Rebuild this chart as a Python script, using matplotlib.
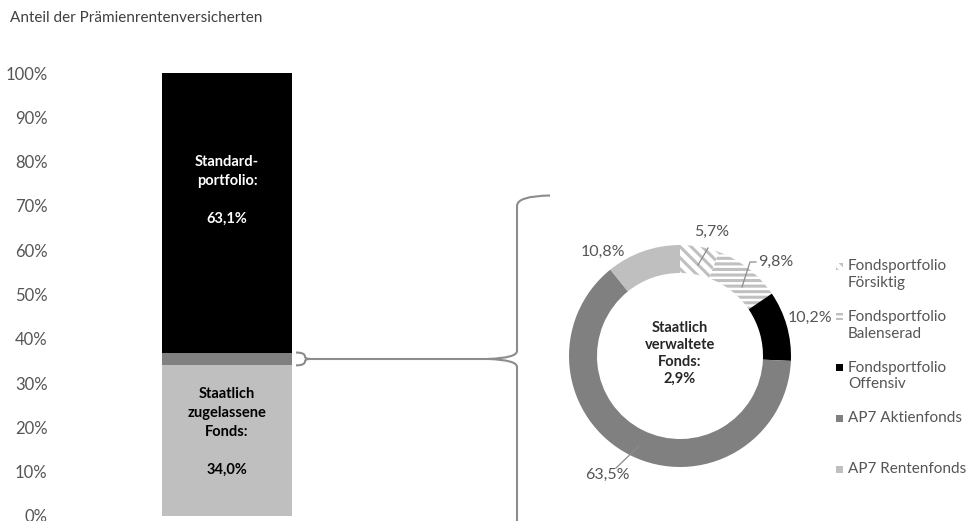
import matplotlib
matplotlib.use("Agg")
import matplotlib.pyplot as plt
from matplotlib.path import Path
from matplotlib.patches import PathPatch, Rectangle
import numpy as np

# Prämienrente: Aufteilung der Versicherten
bar_labels = ["Staatlich\nzugelassene\nFonds:\n\n34,0%", "", "Standard-\nportfolio:\n\n63,1%"]
bar_values = [34.0, 2.9, 63.1]
bar_colors = ["#bfbfbf", "#808080", "#000000"]
y_ticks = [0, 10, 20, 30, 40, 50, 60, 70, 80, 90, 100]

# Staatlich verwaltete Fonds (Anteile innerhalb der 2,9 %)
fund_names = ["Fondsportfolio\nFörsiktig", "Fondsportfolio\nBalenserad",
              "Fondsportfolio\nOffensiv", "AP7 Aktienfonds", "AP7 Rentenfonds"]
fund_shares = [5.7, 9.8, 10.2, 63.5, 10.8]
fund_faces = ["white", "white", "#000000", "#808080", "#bfbfbf"]
fund_hatches = ["\\\\\\", "---", None, None, None]
hatch_color = "#c0c0c0"

W, H = 969, 521
plt.rcParams["font.family"] = ["Lato", "DejaVu Sans"]
plt.rcParams["hatch.linewidth"] = 2.2
plt.rcParams["hatch.color"] = hatch_color
txt = "#555555"

fig = plt.figure(figsize=(W / 100, H / 100), dpi=100)

def px_box(left, top, right, bottom):
    return [left / W, 1 - bottom / H, (right - left) / W, (bottom - top) / H]

# --- stacked bar ---
ax = fig.add_axes(px_box(60, 73, 500, 516))
bottom = 0
for val, col in zip(bar_values, bar_colors):
    ax.bar(0, val, bottom=bottom, width=0.6, color=col, linewidth=0)
    bottom += val
ax.set_xlim(-0.771, 1.26)
ax.set_ylim(0, 100)
ax.set_yticks(y_ticks)
ax.set_yticklabels([f"{t}%" for t in y_ticks], fontsize=12, color=txt)
ax.tick_params(axis="y", length=0, pad=9)
ax.set_xticks([])
for s in ax.spines.values():
    s.set_visible(False)

ax.text(0, 73.5, bar_labels[2], ha="center", va="center", color="white",
        fontsize=10.5, fontweight="bold", linespacing=1.45)
ax.text(0, 19.0, bar_labels[0], ha="center", va="center", color="black",
        fontsize=10.5, fontweight="bold", linespacing=1.45)

fig.text(10 / W, 1 - 18 / H, "Anteil der Prämienrentenversicherten", fontsize=11,
         color="#404040", va="center", ha="left")

# --- donut ---
cx, cy, box = 680, 356, 120
dax = fig.add_axes(px_box(cx - box, cy - box, cx + box, cy + box))
r_out = 111 / box
ring = 28 / box
wedges, _ = dax.pie(fund_shares, startangle=90, counterclock=False, radius=r_out,
                    colors=fund_faces, wedgeprops=dict(width=ring, linewidth=0))
for w, h in zip(wedges, fund_hatches):
    if h:
        w.set_hatch(h)
        w.set_edgecolor(hatch_color)
        w.set_linewidth(0)
dax.set_xlim(-1, 1)
dax.set_ylim(-1, 1)
dax.set_aspect("equal")
dax.axis("off")

dax.text(0, 0.02, "Staatlich\nverwaltete\nFonds:\n2,9%", ha="center", va="center",
         fontsize=10.5, fontweight="bold", color="#262626", linespacing=1.25)

# percentage labels around the ring (pixel offsets from the donut centre)
label_pos = [(32, 124), (78, 94), (130, 38), (-73, -119), (-77, 104)]
label_ha = ["center", "left", "center", "center", "center"]
leaders = [((18, 91), (28, 108)), ((62, 69), (70, 94)), None,
           ((-42, -91), (-64, -112)), None]
for share, (lx, ly), ha, lead in zip(fund_shares, label_pos, label_ha, leaders):
    s = f"{share:.1f}%".replace(".", ",")
    dax.text(lx / box, ly / box, s, ha=ha, va="center", fontsize=11.5, color=txt)
    if lead:
        (x0, y0), (x1, y1) = lead
        xs = [x0 / box, x1 / box]
        ys = [y0 / box, y1 / box]
        if ha == "left":
            xs.append((lx - 2) / box)
            ys.append(y1 / box)
        dax.plot(xs, ys, color="#8c8c8c", lw=0.9)

# --- legend ---
for i, name in enumerate(fund_names):
    y = 259 + i * 50.8
    fig.text(848 / W, 1 - y / H, name, fontsize=11, color=txt,
             va="top", ha="left", linespacing=1.25)
    sq = Rectangle((836 / W, 1 - (y + 10.5) / H), 7 / W, 7 / H, transform=fig.transFigure,
                   facecolor=fund_faces[i], edgecolor=hatch_color if fund_hatches[i] else "none",
                   linewidth=0, hatch=fund_hatches[i])
    fig.patches.append(sq)

# --- braces linking the bar segment to the donut ---
ov = fig.add_axes([0, 0, 1, 1], facecolor="none")
ov.set_xlim(0, W)
ov.set_ylim(H, 0)
ov.axis("off")

def to_px(y_val):
    dy = ax.transData.transform((0, y_val))[1]
    return H - dy

seg_top = to_px(bar_values[0] + bar_values[1])
seg_bot = to_px(bar_values[0])
mid = (seg_top + seg_bot) / 2
M, L, C = Path.MOVETO, Path.LINETO, Path.CURVE3
brace_col = "#8c8c8c"
paths = [
    # small brace next to the bar
    ([(296, seg_top), (305, seg_top), (305, seg_top + 4), (305, mid), (310, mid),
      (305, mid), (305, seg_bot - 4), (305, seg_bot), (296, seg_bot)],
     [M, C, C, C, C, C, C, C, C]),
    # connector
    ([(310, mid), (490, mid)], [M, L]),
    # large brace
    ([(550, 195.5), (517, 196), (517, 206), (517, mid - 8), (517, mid - 1), (488, mid)],
     [M, C, C, L, C, C]),
    ([(488, mid), (517, mid + 1), (517, mid + 8), (517, 521)], [M, C, C, L]),
]
for verts, codes in paths:
    ov.add_patch(PathPatch(Path(verts, codes), facecolor="none", edgecolor=brace_col, lw=1.5))

fig.savefig("out.png", dpi=100)
